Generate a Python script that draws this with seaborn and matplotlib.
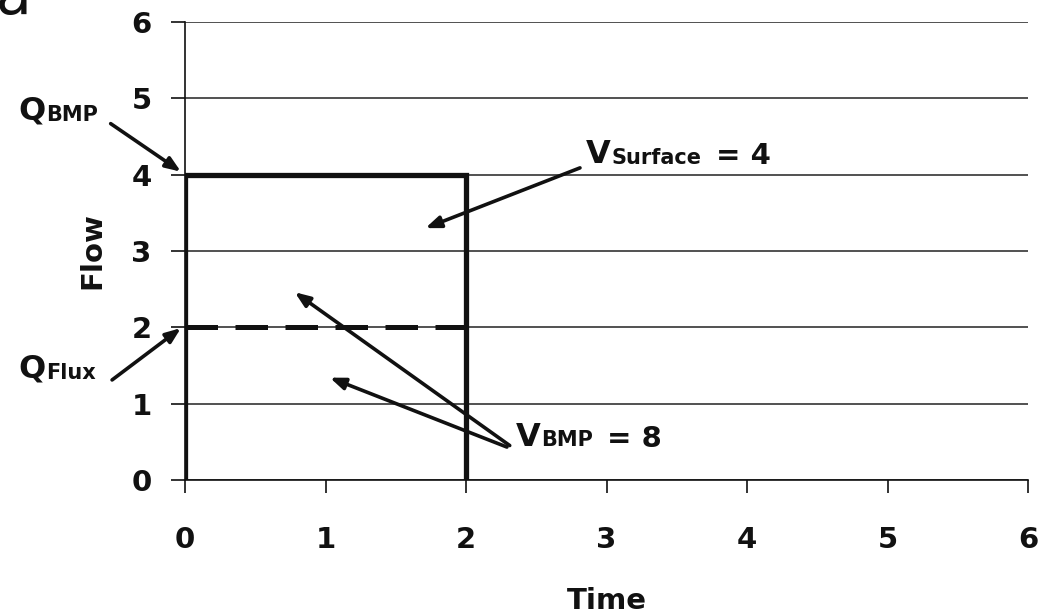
import matplotlib
matplotlib.use("Agg")
import matplotlib.pyplot as plt
import seaborn as sns
import pandas as pd

# datos del hidrograma
pulse_time = [0, 0, 2, 2]
pulse_flow = [0, 4, 4, 0]
flux_time = [0, 2]
flux_flow = [2, 2]
tick_values = [0, 1, 2, 3, 4, 5, 6]

sns.set_style("white")
plt.rcParams['font.family'] = ['DejaVu Sans']

fig = plt.figure(figsize=(10.46, 6.16), dpi=100)
ax = fig.add_axes([0.177, 0.221, 0.806, 0.743])

pulse = pd.DataFrame({"time": pulse_time, "flow": pulse_flow})
flux = pd.DataFrame({"time": flux_time, "flow": flux_flow})

sns.lineplot(data=pulse, x="time", y="flow", sort=False, estimator=None, errorbar=None,
             color="#111111", linewidth=3.8, ax=ax, zorder=3)
sns.lineplot(data=flux, x="time", y="flow", sort=False, estimator=None, errorbar=None,
             color="#111111", linewidth=3.6, ax=ax, zorder=3)
ax.lines[-1].set_dashes([6.5, 3.5])
ax.lines[0].set_solid_joinstyle("miter")

ax.set_xlim(0, 6)
ax.set_ylim(0, 6)
ax.set_xticks(tick_values)
ax.set_yticks(tick_values)
ax.set_xticklabels([str(v) for v in tick_values], fontsize=21, fontweight="bold")
ax.set_yticklabels([str(v) for v in tick_values], fontsize=21, fontweight="bold")
ax.tick_params(axis="x", bottom=True, direction="out", length=9, width=1.2, pad=24,
               color="#111111", labelcolor="#111111")
ax.tick_params(axis="y", left=True, direction="out", length=10, width=1.2, pad=14,
               color="#111111", labelcolor="#111111")
ax.yaxis.grid(True, color="#222222", linewidth=1.1)
ax.xaxis.grid(False)
ax.set_axisbelow(True)
for side in ["top", "right"]:
    ax.spines[side].set_visible(False)
for side in ["left", "bottom"]:
    ax.spines[side].set_color("#111111")
    ax.spines[side].set_linewidth(1.2)

ax.set_xlabel("Time", fontsize=21, fontweight="bold", labelpad=24, color="#111111")
ax.set_ylabel("Flow", fontsize=21, fontweight="bold", labelpad=18, color="#111111")

arrow = dict(arrowstyle="-|>,head_length=0.9,head_width=0.35", color="#111111", lw=2.6,
             shrinkA=0, shrinkB=0)


def label(x, y, big, small, tail=""):
    # letra grande + texto pequeño en la misma linea base
    t1 = ax.text(x, y, big, fontsize=23, fontweight="bold", va="baseline",
                 clip_on=False, color="#111111")
    t2 = ax.annotate(small, xy=(1, 0), xycoords=t1, xytext=(1, 1.5), textcoords="offset points",
                     fontsize=15, fontweight="bold", va="bottom", color="#111111",
                     annotation_clip=False)
    if tail:
        ax.annotate(tail, xy=(1, 0), xycoords=t2, xytext=(10, -1.5), textcoords="offset points",
                    fontsize=21, fontweight="bold", va="bottom", color="#111111",
                    annotation_clip=False)


label(-1.19, 4.72, "Q", "BMP")
label(-1.19, 1.34, "Q", "Flux")
label(2.85, 4.15, "V", "Surface", "= 4")
label(2.35, 0.45, "V", "BMP", "= 8")

ax.annotate("", xy=(-0.03, 4.04), xytext=(-0.53, 4.67), arrowprops=arrow, annotation_clip=False)
ax.annotate("", xy=(-0.03, 1.99), xytext=(-0.52, 1.31), arrowprops=arrow, annotation_clip=False)
ax.annotate("", xy=(1.71, 3.30), xytext=(2.81, 4.09), arrowprops=arrow)
ax.annotate("", xy=(0.78, 2.46), xytext=(2.31, 0.45), arrowprops=arrow)
ax.annotate("", xy=(1.03, 1.34), xytext=(2.29, 0.43), arrowprops=arrow)

# letra del panel, cortada arriba
fig.text(-0.004, 0.978, "a", fontsize=42, va="baseline", ha="left", color="#111111")

fig.savefig("out.png", dpi=100)
